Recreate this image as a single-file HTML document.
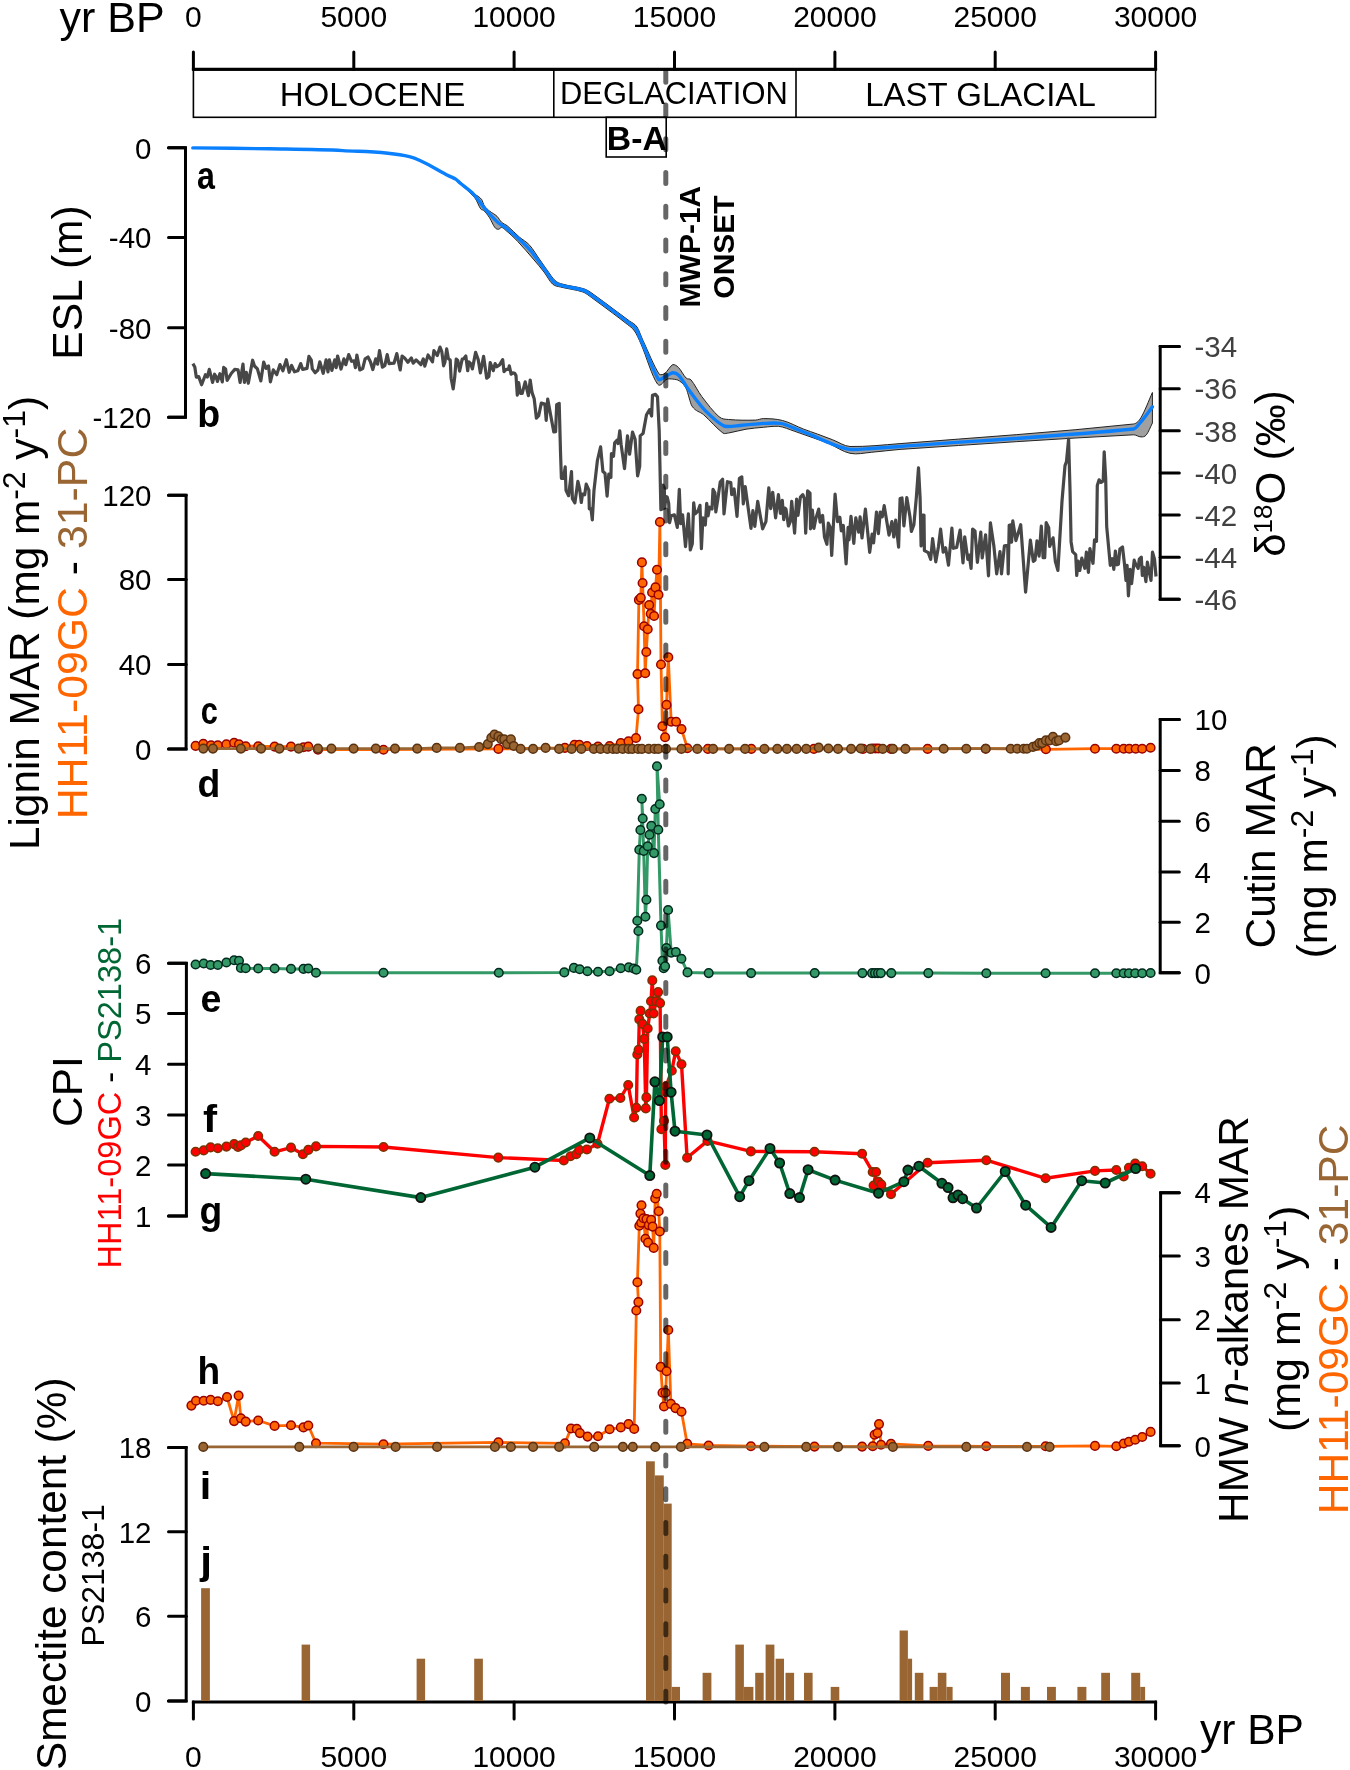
<!DOCTYPE html>
<html><head><meta charset="utf-8"><style>html,body{margin:0;padding:0;background:#fff}svg{display:block;will-change:transform;font-family:"Liberation Sans",sans-serif}</style></head><body>
<svg width="1350" height="1770" viewBox="0 0 1350 1770" >
<rect width="1350" height="1770" fill="#fff"/>
<g stroke="#000" stroke-width="3" fill="none">
<line x1="191.9" y1="69.3" x2="1157.1" y2="69.3"/>
<line x1="193.4" y1="52" x2="193.4" y2="69.3" stroke-linecap="round"/>
<line x1="353.8" y1="52" x2="353.8" y2="69.3" stroke-linecap="round"/>
<line x1="514.1" y1="52" x2="514.1" y2="69.3" stroke-linecap="round"/>
<line x1="674.5" y1="52" x2="674.5" y2="69.3" stroke-linecap="round"/>
<line x1="834.9" y1="52" x2="834.9" y2="69.3" stroke-linecap="round"/>
<line x1="995.2" y1="52" x2="995.2" y2="69.3" stroke-linecap="round"/>
<line x1="1155.6" y1="52" x2="1155.6" y2="69.3" stroke-linecap="round"/>
</g>
<text x="193.4" y="27.4" font-size="30" text-anchor="middle">0</text>
<text x="353.8" y="27.4" font-size="30" text-anchor="middle">5000</text>
<text x="514.1" y="27.4" font-size="30" text-anchor="middle">10000</text>
<text x="674.5" y="27.4" font-size="30" text-anchor="middle">15000</text>
<text x="834.9" y="27.4" font-size="30" text-anchor="middle">20000</text>
<text x="995.2" y="27.4" font-size="30" text-anchor="middle">25000</text>
<text x="1155.6" y="27.4" font-size="30" text-anchor="middle">30000</text>
<text x="59.5" y="31.6" font-size="43">yr BP</text>
<g stroke="#000" stroke-width="1.6" fill="none">
<rect x="193.4" y="70" width="962.2" height="47.3"/>
<line x1="553.8" y1="70" x2="553.8" y2="117.3"/>
<line x1="796" y1="70" x2="796" y2="117.3"/>
<rect x="606.2" y="117.3" width="60" height="39.7"/>
</g>
<text x="372.5" y="106.2" font-size="33.1" text-anchor="middle">HOLOCENE</text>
<text x="673.9" y="104.4" font-size="30.9" text-anchor="middle">DEGLACIATION</text>
<text x="980.5" y="106" font-size="33" text-anchor="middle">LAST GLACIAL</text>
<text x="606.8" y="150.2" font-size="32.5" font-weight="bold" textLength="60" lengthAdjust="spacingAndGlyphs">B-A</text>
<g stroke="#000" stroke-width="3" fill="none" stroke-linecap="round"><polyline points="168.5,147.8 185.5,147.8 185.5,417.2 168.5,417.2" stroke-linejoin="miter"/>
<line x1="168.5" y1="147.8" x2="185.5" y2="147.8"/>
<line x1="168.5" y1="237.6" x2="185.5" y2="237.6"/>
<line x1="168.5" y1="327.8" x2="185.5" y2="327.8"/>
<line x1="168.5" y1="417.2" x2="185.5" y2="417.2"/>
</g>
<text x="151.5" y="158.5" font-size="29.5" text-anchor="end">0</text>
<text x="151.5" y="248.3" font-size="29.5" text-anchor="end">-40</text>
<text x="151.5" y="338.5" font-size="29.5" text-anchor="end">-80</text>
<text x="151.5" y="427.9" font-size="29.5" text-anchor="end">-120</text>
<g stroke="#000" stroke-width="3" fill="none" stroke-linecap="round"><polyline points="168.5,495.2 186.1,495.2 186.1,748.9 168.5,748.9" stroke-linejoin="miter"/>
<line x1="168.5" y1="495.2" x2="186.1" y2="495.2"/>
<line x1="168.5" y1="579.6" x2="186.1" y2="579.6"/>
<line x1="168.5" y1="664.4" x2="186.1" y2="664.4"/>
<line x1="168.5" y1="748.9" x2="186.1" y2="748.9"/>
</g>
<text x="151.5" y="505.9" font-size="29.5" text-anchor="end">120</text>
<text x="151.5" y="590.3" font-size="29.5" text-anchor="end">80</text>
<text x="151.5" y="675.1" font-size="29.5" text-anchor="end">40</text>
<text x="151.5" y="759.6" font-size="29.5" text-anchor="end">0</text>
<g stroke="#000" stroke-width="3" fill="none" stroke-linecap="round"><polyline points="168.5,963.2 186.4,963.2 186.4,1216 168.5,1216" stroke-linejoin="miter"/>
<line x1="168.5" y1="963.2" x2="186.4" y2="963.2"/>
<line x1="168.5" y1="1013.4" x2="186.4" y2="1013.4"/>
<line x1="168.5" y1="1064.3" x2="186.4" y2="1064.3"/>
<line x1="168.5" y1="1114.9" x2="186.4" y2="1114.9"/>
<line x1="168.5" y1="1165.1" x2="186.4" y2="1165.1"/>
<line x1="168.5" y1="1216" x2="186.4" y2="1216"/>
</g>
<text x="151.5" y="973.9" font-size="29.5" text-anchor="end">6</text>
<text x="151.5" y="1024.1" font-size="29.5" text-anchor="end">5</text>
<text x="151.5" y="1075.0" font-size="29.5" text-anchor="end">4</text>
<text x="151.5" y="1125.6" font-size="29.5" text-anchor="end">3</text>
<text x="151.5" y="1175.8" font-size="29.5" text-anchor="end">2</text>
<text x="151.5" y="1226.7" font-size="29.5" text-anchor="end">1</text>
<g stroke="#000" stroke-width="3" fill="none" stroke-linecap="round"><polyline points="168.5,1447.4 186.2,1447.4 186.2,1701 168.5,1701" stroke-linejoin="miter"/>
<line x1="168.5" y1="1447.4" x2="186.2" y2="1447.4"/>
<line x1="168.5" y1="1531.8" x2="186.2" y2="1531.8"/>
<line x1="168.5" y1="1616.2" x2="186.2" y2="1616.2"/>
<line x1="168.5" y1="1701" x2="186.2" y2="1701"/>
</g>
<text x="151.5" y="1458.1" font-size="29.5" text-anchor="end">18</text>
<text x="151.5" y="1542.5" font-size="29.5" text-anchor="end">12</text>
<text x="151.5" y="1626.9" font-size="29.5" text-anchor="end">6</text>
<text x="151.5" y="1711.7" font-size="29.5" text-anchor="end">0</text>
<g stroke="#000" stroke-width="3" fill="none" stroke-linecap="round"><polyline points="1179.3,346.5 1160.2,346.5 1160.2,599.3 1179.3,599.3" stroke-linejoin="miter"/>
<line x1="1160.2" y1="346.5" x2="1179.3" y2="346.5"/>
<line x1="1160.2" y1="388.63" x2="1179.3" y2="388.63"/>
<line x1="1160.2" y1="430.76" x2="1179.3" y2="430.76"/>
<line x1="1160.2" y1="472.89" x2="1179.3" y2="472.89"/>
<line x1="1160.2" y1="515.02" x2="1179.3" y2="515.02"/>
<line x1="1160.2" y1="557.15" x2="1179.3" y2="557.15"/>
<line x1="1160.2" y1="599.28" x2="1179.3" y2="599.28"/>
</g>
<text x="1194.5" y="357.2" font-size="29.5" fill="#404040">-34</text>
<text x="1194.5" y="399.3" font-size="29.5" fill="#404040">-36</text>
<text x="1194.5" y="441.5" font-size="29.5" fill="#404040">-38</text>
<text x="1194.5" y="483.6" font-size="29.5" fill="#404040">-40</text>
<text x="1194.5" y="525.7" font-size="29.5" fill="#404040">-42</text>
<text x="1194.5" y="567.9" font-size="29.5" fill="#404040">-44</text>
<text x="1194.5" y="610.0" font-size="29.5" fill="#404040">-46</text>
<g stroke="#000" stroke-width="3" fill="none" stroke-linecap="round"><polyline points="1179.3,719.4 1160.2,719.4 1160.2,972.8 1179.3,972.8" stroke-linejoin="miter"/>
<line x1="1160.2" y1="719.4" x2="1179.3" y2="719.4"/>
<line x1="1160.2" y1="770.4" x2="1179.3" y2="770.4"/>
<line x1="1160.2" y1="821.3" x2="1179.3" y2="821.3"/>
<line x1="1160.2" y1="871.9" x2="1179.3" y2="871.9"/>
<line x1="1160.2" y1="922.2" x2="1179.3" y2="922.2"/>
<line x1="1160.2" y1="972.8" x2="1179.3" y2="972.8"/>
</g>
<text x="1194.5" y="730.1" font-size="29.5" fill="#000">10</text>
<text x="1194.5" y="781.1" font-size="29.5" fill="#000">8</text>
<text x="1194.5" y="832.0" font-size="29.5" fill="#000">6</text>
<text x="1194.5" y="882.6" font-size="29.5" fill="#000">4</text>
<text x="1194.5" y="932.9" font-size="29.5" fill="#000">2</text>
<text x="1194.5" y="983.5" font-size="29.5" fill="#000">0</text>
<g stroke="#000" stroke-width="3" fill="none" stroke-linecap="round"><polyline points="1179.3,1192.7 1160.6,1192.7 1160.6,1445.8 1179.3,1445.8" stroke-linejoin="miter"/>
<line x1="1160.6" y1="1192.7" x2="1179.3" y2="1192.7"/>
<line x1="1160.6" y1="1256" x2="1179.3" y2="1256"/>
<line x1="1160.6" y1="1319.7" x2="1179.3" y2="1319.7"/>
<line x1="1160.6" y1="1383" x2="1179.3" y2="1383"/>
<line x1="1160.6" y1="1445.8" x2="1179.3" y2="1445.8"/>
</g>
<text x="1194.5" y="1203.4" font-size="29.5" fill="#000">4</text>
<text x="1194.5" y="1266.7" font-size="29.5" fill="#000">3</text>
<text x="1194.5" y="1330.4" font-size="29.5" fill="#000">2</text>
<text x="1194.5" y="1393.7" font-size="29.5" fill="#000">1</text>
<text x="1194.5" y="1456.5" font-size="29.5" fill="#000">0</text>
<g stroke="#000" stroke-width="3" fill="none">
<line x1="191.9" y1="1702" x2="1157.1" y2="1702"/>
<line x1="193.4" y1="1702" x2="193.4" y2="1719" stroke-linecap="round"/>
<line x1="353.8" y1="1702" x2="353.8" y2="1719" stroke-linecap="round"/>
<line x1="514.1" y1="1702" x2="514.1" y2="1719" stroke-linecap="round"/>
<line x1="674.5" y1="1702" x2="674.5" y2="1719" stroke-linecap="round"/>
<line x1="834.9" y1="1702" x2="834.9" y2="1719" stroke-linecap="round"/>
<line x1="995.2" y1="1702" x2="995.2" y2="1719" stroke-linecap="round"/>
<line x1="1155.6" y1="1702" x2="1155.6" y2="1719" stroke-linecap="round"/>
</g>
<text x="193.4" y="1766.6" font-size="30" text-anchor="middle">0</text>
<text x="353.8" y="1766.6" font-size="30" text-anchor="middle">5000</text>
<text x="514.1" y="1766.6" font-size="30" text-anchor="middle">10000</text>
<text x="674.5" y="1766.6" font-size="30" text-anchor="middle">15000</text>
<text x="834.9" y="1766.6" font-size="30" text-anchor="middle">20000</text>
<text x="995.2" y="1766.6" font-size="30" text-anchor="middle">25000</text>
<text x="1155.6" y="1766.6" font-size="30" text-anchor="middle">30000</text>
<text x="1200" y="1743.9" font-size="42.5">yr BP</text>
<text transform="translate(196.93,189) scale(0.827,1)" font-size="39" font-weight="bold">a</text>
<text transform="translate(197.27,427) scale(0.964,1)" font-size="39" font-weight="bold">b</text>
<text transform="translate(200.67,724.3) scale(0.790,1)" font-size="39" font-weight="bold">c</text>
<text transform="translate(197.50,797.3) scale(0.959,1)" font-size="39" font-weight="bold">d</text>
<text transform="translate(200.40,1011.6) scale(0.962,1)" font-size="39" font-weight="bold">e</text>
<text transform="translate(203.05,1132) scale(1.084,1)" font-size="39" font-weight="bold">f</text>
<text transform="translate(199.51,1223.5) scale(0.954,1)" font-size="39" font-weight="bold">g</text>
<text transform="translate(197.50,1383.9) scale(0.951,1)" font-size="39" font-weight="bold">h</text>
<text transform="translate(199.70,1498.9) scale(1.062,1)" font-size="39" font-weight="bold">i</text>
<text transform="translate(200.14,1574.4) scale(1.081,1)" font-size="39" font-weight="bold">j</text>
<text transform="translate(81.5,282.5) rotate(-90)" font-size="42.5" fill="#000" text-anchor="middle" >ESL (m)</text>
<text transform="translate(39.2,623) rotate(-90)" font-size="42.3" fill="#000" text-anchor="middle" >Lignin MAR (mg m<tspan dy="-14" font-size="32">-2</tspan><tspan dy="14"> y</tspan><tspan dy="-14" font-size="32">-1</tspan><tspan dy="14">)</tspan></text>
<text transform="translate(86.5,623.5) rotate(-90)" font-size="42.8" fill="#000" text-anchor="middle" ><tspan fill="#ff6600">HH11-09GC</tspan> - <tspan fill="#996633">31-PC</tspan></text>
<text transform="translate(82.4,1091.6) rotate(-90)" font-size="42.5" fill="#000" text-anchor="middle" >CPI</text>
<text transform="translate(120.9,1093.2) rotate(-90)" font-size="32.6" fill="#000" text-anchor="middle" ><tspan fill="#ff0000">HH11-09GC</tspan> - <tspan fill="#006633">PS2138-1</tspan></text>
<text transform="translate(65.5,1573.8) rotate(-90)" font-size="42.3" fill="#000" text-anchor="middle" >Smectite content (%)</text>
<text transform="translate(104.3,1575.3) rotate(-90)" font-size="32" fill="#000" text-anchor="middle" >PS2138-1</text>
<text transform="translate(1284.8,473.5) rotate(-90)" font-size="42" fill="#000" text-anchor="middle" >δ<tspan dy="-13" font-size="26">18</tspan><tspan dy="13">O (‰)</tspan></text>
<text transform="translate(1275,845.8) rotate(-90)" font-size="42.5" fill="#000" text-anchor="middle" >Cutin MAR</text>
<text transform="translate(1327,846.3) rotate(-90)" font-size="42.4" fill="#000" text-anchor="middle" >(mg m<tspan dy="-14" font-size="32">-2</tspan><tspan dy="14"> y</tspan><tspan dy="-14" font-size="32">-1</tspan><tspan dy="14">)</tspan></text>
<text transform="translate(1248,1319.6) rotate(-90)" font-size="42.3" fill="#000" text-anchor="middle" >HMW <tspan font-style="italic">n</tspan>-alkanes MAR</text>
<text transform="translate(1300,1318.8) rotate(-90)" font-size="43" fill="#000" text-anchor="middle" >(mg m<tspan dy="-14" font-size="32">-2</tspan><tspan dy="14"> y</tspan><tspan dy="-14" font-size="32">-1</tspan><tspan dy="14">)</tspan></text>
<text transform="translate(1348,1319.4) rotate(-90)" font-size="42.6" fill="#000" text-anchor="middle" ><tspan fill="#ff6600">HH11-09GC</tspan> - <tspan fill="#996633">31-PC</tspan></text>
<text transform="translate(700.3,246.6) rotate(-90)" font-size="30" fill="#000" text-anchor="middle" font-weight="bold">MWP-1A</text>
<text transform="translate(734.4,247) rotate(-90)" font-size="30" fill="#000" text-anchor="middle" font-weight="bold">ONSET</text>
<path d="M456.1,178.5 C462.3,183.7 468.6,189.0 474.8,194.1 C477.0,195.9 479.3,196.6 481.5,199.3 C482.5,200.5 483.4,204.5 484.4,205.9 C486.1,208.4 487.9,209.7 489.6,211.1 C492.1,213.1 494.5,214.0 497.0,216.3 C498.5,217.7 500.0,220.8 501.5,222.2 C503.5,224.0 505.4,224.3 507.4,225.9 C511.4,229.2 515.3,233.6 519.3,237.0 C522.7,240.0 526.2,241.4 529.6,245.2 C533.1,249.1 536.5,255.1 540.0,260.0 C542.3,263.3 544.7,266.8 547.0,270.0 C549.7,273.6 552.3,278.0 555.0,280.5 C557.3,282.7 559.7,283.3 562.0,284.0 C569.5,286.2 577.0,286.6 584.5,289.0 C587.3,289.9 590.2,292.0 593.0,294.0 C600.0,298.9 607.0,304.3 614.0,309.5 C619.2,313.3 624.3,317.1 629.5,321.0 C632.0,322.9 634.5,323.4 637.0,327.0 C639.0,329.9 641.0,336.3 643.0,340.5 C648.4,352.0 653.9,366.2 659.3,374.3 C661.2,375.1 663.1,374.7 665.0,373.3 C667.6,371.4 670.2,365.7 672.8,364.6 C674.7,364.4 676.6,365.6 678.5,367.5 C681.1,370.1 683.6,375.6 686.2,378.1 C687.8,379.7 689.5,378.1 691.1,380.0 C694.6,384.2 698.2,391.8 701.7,396.4 C707.5,404.0 713.2,411.7 719.0,416.7 C722.2,419.4 725.4,419.2 728.6,419.5 C737.6,420.3 746.6,420.3 755.6,420.1 C758.2,420.0 760.7,418.6 763.3,418.6 C769.7,418.7 776.2,418.8 782.6,420.5 C789.7,422.3 796.7,426.5 803.8,429.2 C808.3,431.0 812.8,432.3 817.3,434.0 C822.4,435.9 827.6,437.8 832.7,439.8 C838.5,442.0 844.2,446.2 850.0,446.5 C866.7,446.8 883.4,444.9 900.1,443.6 C977.9,437.4 1055.7,432.4 1133.5,424.0 C1136.0,423.7 1138.5,421.8 1141.0,417.6 C1144.8,411.3 1148.6,400.9 1152.4,392.5 L1152.4,423.0 C1150.4,426.9 1148.4,432.4 1146.4,434.8 C1144.6,437.0 1142.8,436.9 1141.0,436.9 C1138.5,436.9 1136.0,434.7 1133.5,434.8 C1055.7,438.8 977.9,444.2 900.1,449.4 C890.5,450.0 880.8,451.6 871.2,452.3 C864.1,452.9 857.1,454.8 850.0,453.3 C842.9,451.9 835.9,446.6 828.8,443.6 C823.7,441.4 818.5,439.7 813.4,437.9 C807.0,435.6 800.5,433.3 794.1,431.1 C789.0,429.4 783.8,426.9 778.7,426.3 C773.6,426.1 768.4,426.8 763.3,427.3 C757.5,427.8 751.8,428.3 746.0,429.2 C740.2,430.2 734.4,432.0 728.6,433.0 C726.7,433.0 724.8,434.4 722.9,433.0 C716.5,428.3 710.0,420.3 703.6,414.7 C699.7,411.3 695.9,411.9 692.0,406.1 C690.1,403.2 688.1,392.6 686.2,388.7 C684.0,384.2 681.7,382.6 679.5,381.0 C677.3,379.4 675.0,379.4 672.8,379.1 C670.9,379.1 668.9,378.5 667.0,379.1 C663.8,380.1 660.7,388.3 657.5,384.0 C652.0,376.6 646.5,356.7 641.0,344.0 C638.8,339.0 636.7,334.1 634.5,331.0 C632.2,327.6 629.8,326.4 627.5,324.5 C622.5,320.4 617.5,316.8 612.5,313.0 C605.5,307.8 598.5,302.5 591.5,297.5 C588.7,295.5 585.8,293.0 583.0,292.0 C575.5,289.5 568.0,289.0 560.5,287.0 C557.8,286.3 555.2,286.4 552.5,284.0 C549.7,281.4 546.8,275.7 544.0,272.0 C540.7,267.7 537.4,263.8 534.1,260.0 C528.7,253.7 523.2,247.2 517.8,241.5 C513.8,237.3 509.9,233.8 505.9,230.4 C504.4,229.1 503.0,227.6 501.5,227.4 C500.5,227.4 499.5,229.3 498.5,229.3 C497.3,229.3 496.0,229.0 494.8,227.4 C493.1,225.2 491.3,220.5 489.6,217.8 C487.6,214.8 485.7,212.4 483.7,210.4 C482.7,209.4 481.7,210.3 480.7,208.9 C478.7,206.1 476.8,200.1 474.8,197.8 C468.6,190.6 462.3,186.1 456.1,180.3 Z" fill="#a0a0a0" stroke="#222" stroke-width="1"/>
<path d="M192.8,147.9 C218.3,148.2 243.9,148.3 269.4,148.8 C293.9,149.2 318.3,149.2 342.8,150.6 C365.0,151.8 387.2,151.3 409.4,156.6 C422.7,159.8 436.1,169.6 449.4,176.1 C451.6,177.2 453.9,177.9 456.1,179.4 C457.4,180.2 458.7,181.9 460.0,183.0 C464.0,186.3 467.9,189.0 471.9,192.6 C473.9,194.4 475.8,196.9 477.8,199.3 C480.0,202.0 482.2,205.4 484.4,208.1 C486.6,210.8 488.9,213.2 491.1,215.6 C493.6,218.2 496.0,220.9 498.5,223.0 C500.5,224.6 502.4,225.2 504.4,226.7 C509.4,230.6 514.3,234.8 519.3,239.3 C523.0,242.7 526.7,246.3 530.4,250.4 C532.9,253.2 535.3,256.7 537.8,260.0 C540.4,263.5 543.0,267.1 545.6,270.7 C548.4,274.5 551.1,279.5 553.9,282.1 C556.3,284.4 558.7,284.6 561.1,285.3 C568.7,287.4 576.3,287.9 583.9,290.4 C586.7,291.3 589.4,293.7 592.2,295.6 C599.2,300.6 606.3,305.9 613.3,311.1 C618.4,314.9 623.4,318.6 628.5,322.6 C630.9,324.5 633.4,325.2 635.8,328.8 C637.9,331.8 639.9,337.7 642.0,342.3 C647.5,354.6 653.1,370.9 658.6,379.6 C660.4,380.5 662.3,378.1 664.1,377.2 C667.0,375.8 669.9,373.1 672.8,372.7 C674.7,372.6 676.6,373.1 678.5,375.2 C682.4,379.4 686.2,386.5 690.1,391.6 C695.2,398.4 700.4,405.8 705.5,410.9 C711.9,417.3 718.4,423.8 724.8,426.3 C730.6,427.0 736.3,425.7 742.1,425.3 C749.2,424.8 756.2,423.7 763.3,423.4 C769.1,423.4 774.9,422.5 780.7,423.4 C785.2,424.1 789.6,426.5 794.1,428.2 C800.5,430.7 807.0,433.2 813.4,435.9 C818.5,438.0 823.7,440.8 828.8,442.7 C835.9,445.3 842.9,448.4 850.0,449.4 C857.1,449.7 864.1,448.9 871.2,448.5 C880.8,447.9 890.5,447.2 900.1,446.5 C977.9,440.7 1055.7,436.6 1133.5,429.0 C1135.7,428.8 1137.8,425.5 1140.0,423.0 C1144.1,418.2 1148.3,412.3 1152.4,406.9" fill="none" stroke="#0a80ff" stroke-width="3.4" stroke-linejoin="round" stroke-linecap="round"/>
<polyline points="192.9,363.6 194.8,367.0 196.3,377.1 198.7,376.6 201.6,384.8 205.4,374.7 207.3,377.1 209.3,369.4 212.6,382.4 214.6,374.2 216.0,376.6 217.4,381.4 219.9,373.7 222.3,381.9 223.7,367.4 225.6,368.9 227.1,380.4 231.4,373.2 234.8,369.4 238.1,369.9 240.1,382.4 243.0,364.1 244.4,382.4 246.3,372.3 248.3,383.3 252.6,360.2 254.5,366.0 257.4,368.9 260.8,380.9 263.7,362.1 266.1,368.4 268.5,366.0 270.4,381.9 273.3,369.9 276.7,374.7 280.0,364.6 282.9,370.8 286.3,359.7 289.2,372.3 291.6,365.5 294.5,371.8 297.8,370.8 300.7,363.6 302.7,369.4 307.0,368.4 308.9,356.4 311.3,360.2 312.3,368.9 315.2,372.7 317.9,370.0 319.8,361.8 323.2,373.3 326.1,359.9 328.0,371.9 329.4,359.9 331.9,370.4 334.7,359.9 336.2,367.6 337.6,356.0 341.0,369.0 343.9,358.9 345.8,364.7 348.7,354.6 351.6,361.3 354.0,360.8 355.4,367.6 356.9,355.0 359.8,370.0 362.7,368.5 365.1,358.9 368.0,357.0 370.4,361.8 372.8,369.5 375.7,358.9 377.6,364.2 379.5,350.7 382.4,367.1 384.8,365.6 387.2,354.6 389.1,363.7 394.0,363.2 396.8,353.6 400.2,370.0 402.1,356.0 404.6,357.9 407.9,362.3 411.3,357.9 413.2,363.2 416.1,359.9 420.9,364.7 423.3,358.9 424.8,366.1 428.1,355.0 432.5,361.8 433.9,350.7 437.3,355.5 440.0,347.1 441.8,351.6 443.6,365.8 444.9,362.2 446.7,348.9 448.4,358.7 450.2,360.0 451.1,378.2 453.2,388.9 454.7,377.3 456.2,359.1 457.8,360.4 459.6,371.1 462.2,359.1 463.6,358.7 465.8,356.0 467.7,370.7 468.9,361.8 470.7,363.6 472.4,368.9 475.6,352.4 478.2,359.6 480.4,372.9 483.6,356.4 486.7,378.2 488.9,376.4 490.2,362.7 493.3,370.7 495.1,363.6 496.9,366.7 499.6,364.9 502.7,359.6 504.0,371.6 506.2,369.3 508.4,369.3 509.3,365.8 511.1,374.2 512.9,372.9 514.7,373.3 516.0,375.6 517.3,395.1 518.7,382.7 520.4,393.3 522.2,393.3 525.2,381.8 528.4,395.6 530.2,380.0 532.0,392.4 534.2,398.7 536.4,418.2 538.7,415.6 541.3,403.1 544.9,404.0 546.2,420.4 547.7,399.1 553.8,432.0 555.6,431.6 556.7,404.6 559.2,403.3 560.5,452.0 561.4,478.3 563.5,478.3 565.2,466.9 566.0,490.2 568.6,495.7 571.5,471.5 572.4,498.6 574.9,502.9 577.9,481.3 579.6,488.5 581.3,502.5 582.5,494.0 584.7,494.8 586.2,484.2 588.9,490.2 589.3,508.8 591.0,508.8 592.3,519.8 594.0,490.2 597.4,460.5 600.6,446.9 602.9,471.5 605.0,473.2 607.1,496.1 608.8,474.1 610.9,477.5 611.4,453.7 613.5,456.3 614.7,442.7 616.9,440.2 618.1,443.6 619.8,430.8 621.1,444.4 624.5,468.6 627.5,435.9 629.6,454.2 632.5,432.1 635.1,439.3 637.6,475.8 639.7,466.4 640.2,435.9 643.1,433.4 646.5,414.7 649.5,409.7 651.6,416.0 652.5,395.3 655.4,394.4 657.5,396.9 659.2,430.8 660.9,509.7 662.6,508.8 662.9,485.0 664.3,487.9 664.8,508.1 665.8,496.6 667.2,497.1 668.7,503.3 669.6,522.6 671.1,515.8 674.4,514.9 677.3,527.4 679.3,489.4 680.7,523.6 682.6,514.9 685.5,546.7 688.4,513.9 690.3,550.0 692.3,543.8 693.7,502.9 695.1,513.9 698.0,511.0 700.0,505.3 701.4,548.6 702.9,517.8 705.3,525.0 706.7,503.3 708.1,515.8 709.6,507.2 712.0,509.1 713.0,489.4 714.9,492.7 715.8,512.0 717.8,499.5 720.2,482.1 722.6,479.3 724.0,513.9 727.4,481.7 730.8,482.6 731.7,494.7 734.1,488.9 737.0,516.3 739.4,478.3 741.8,476.9 743.3,503.8 745.2,486.5 751.0,528.4 752.9,510.6 754.8,526.4 757.7,501.4 762.6,528.8 765.9,521.6 768.8,487.9 770.7,508.6 772.7,492.3 775.6,517.8 778.4,494.7 780.4,513.4 782.3,500.4 783.7,519.7 785.0,508.1 786.0,509.1 788.4,526.0 790.3,521.6 791.7,501.4 794.6,533.2 796.6,499.0 798.0,515.4 800.4,497.1 802.8,494.7 804.3,498.5 805.7,533.2 807.6,490.8 810.0,493.2 810.5,528.8 812.4,510.1 813.9,528.4 815.8,518.7 818.7,509.1 820.1,522.1 822.6,515.4 824.5,537.0 826.9,544.3 828.3,523.1 830.3,527.4 831.7,555.3 835.1,494.2 837.5,521.6 839.9,517.3 841.3,530.8 843.3,525.5 846.1,564.0 848.1,527.4 849.0,539.9 851.0,516.3 853.8,543.3 855.8,517.8 858.7,532.2 860.1,516.8 862.0,538.0 865.4,509.1 869.7,552.4 872.1,534.1 873.6,542.8 876.5,512.0 878.4,533.7 880.3,512.0 882.3,516.8 884.2,505.7 889.0,535.1 891.9,521.6 893.8,537.0 895.7,520.2 898.6,547.1 900.1,498.5 902.0,498.0 903.9,526.0 906.8,497.6 910.0,517.0 911.4,531.5 913.9,524.7 916.3,497.8 918.5,467.9 920.1,497.8 921.1,545.9 922.5,515.1 924.0,515.1 924.4,550.7 928.3,552.7 930.7,559.4 932.6,538.7 934.1,549.8 935.8,561.8 938.4,546.9 940.6,529.1 943.2,552.2 945.6,547.8 948.5,565.2 951.9,528.1 953.3,548.3 956.7,547.4 960.1,530.0 963.0,562.8 964.7,536.8 967.8,559.4 969.2,555.1 971.1,568.5 972.6,529.1 975.0,531.0 977.4,562.3 980.8,532.0 982.2,558.0 985.6,534.8 988.5,575.8 990.4,522.8 993.8,545.4 996.7,573.8 1000.0,551.7 1001.5,573.8 1004.4,545.9 1007.7,545.4 1008.2,573.8 1009.2,525.2 1011.1,524.7 1011.6,542.1 1012.8,520.9 1015.9,540.6 1020.7,524.7 1025.6,592.1 1030.4,540.1 1033.3,561.3 1035.0,560.2 1037.0,540.9 1039.1,556.1 1041.3,526.1 1043.1,557.7 1044.7,557.7 1046.2,522.6 1048.7,527.7 1049.7,546.5 1051.3,541.9 1053.1,537.8 1055.3,561.2 1057.9,570.4 1062.0,501.2 1065.0,465.6 1066.5,461.5 1068.6,439.2 1070.1,493.1 1071.1,541.9 1072.6,551.6 1075.7,554.6 1076.7,575.5 1078.2,561.2 1079.8,570.4 1081.8,558.2 1084.8,568.3 1086.4,552.1 1088.4,572.4 1089.9,548.5 1093.0,563.3 1094.5,539.9 1096.5,541.4 1097.3,485.4 1099.1,479.8 1101.1,482.4 1103.2,480.9 1104.2,451.9 1105.7,478.8 1106.7,526.6 1110.3,565.3 1112.3,558.7 1113.8,569.4 1115.4,551.0 1116.9,564.8 1118.4,564.3 1119.9,549.0 1122.5,547.0 1124.5,564.3 1126.0,580.5 1127.1,565.3 1128.4,595.8 1130.1,569.4 1131.6,583.6 1134.2,560.2 1135.7,564.3 1138.2,568.3 1139.3,559.2 1141.3,557.2 1142.3,575.5 1143.8,567.3 1145.9,581.6 1147.4,562.2 1148.9,570.4 1151.0,580.5 1152.5,552.1 1154.5,559.2 1156.0,576.5" fill="none" stroke="#474747" stroke-width="3.2" stroke-linejoin="round"/>
<polyline points="195.6,745.9 203.3,743.9 211.0,745.3 217.8,745.3 226.4,744.3 234.1,742.8 239.0,744.3 245.7,746.2 258.2,746.2 274.6,746.6 291.0,746.6 303.5,747.2 308.3,746.6 318.0,749.7 383.5,749.7 498.4,748.9 564.9,747.9 574.5,744.7 579.3,744.7 587.0,746.0 598.0,746.5 609.6,746.0 620.8,743.1 628.5,741.2 636.0,738.0 638.5,709.3 637.5,674.1 638.9,599.9 640.8,597.7 641.9,562.4 642.6,583.0 644.1,626.3 645.2,673.3 646.3,652.0 647.7,629.3 649.2,605.0 650.7,613.8 652.1,592.5 654.1,616.0 655.5,587.4 657.0,569.8 658.5,594.7 659.9,522.0 661.0,664.5 662.4,726.2 665.1,737.2 666.5,704.9 668.3,657.2 671.2,721.8 676.1,721.8 681.5,729.1 687.4,748.2 707.9,748.9 751.3,748.9 813.9,748.9 863.0,748.9 872.5,748.5 875.6,748.5 878.5,748.5 891.0,748.9 927.6,748.9 985.7,748.7 1045.9,749.3 1095.0,748.7 1116.3,748.7 1123.7,748.7 1129.3,748.7 1135.7,748.7 1142.2,748.7 1150.6,747.8" fill="none" stroke="#ff6600" stroke-width="2.8" stroke-linejoin="round"/>
<g fill="#ff6600" stroke="#990000" stroke-width="1.5">
<circle cx="195.6" cy="745.9" r="4.3"/>
<circle cx="203.3" cy="743.9" r="4.3"/>
<circle cx="211.0" cy="745.3" r="4.3"/>
<circle cx="217.8" cy="745.3" r="4.3"/>
<circle cx="226.4" cy="744.3" r="4.3"/>
<circle cx="234.1" cy="742.8" r="4.3"/>
<circle cx="239.0" cy="744.3" r="4.3"/>
<circle cx="245.7" cy="746.2" r="4.3"/>
<circle cx="258.2" cy="746.2" r="4.3"/>
<circle cx="274.6" cy="746.6" r="4.3"/>
<circle cx="291.0" cy="746.6" r="4.3"/>
<circle cx="303.5" cy="747.2" r="4.3"/>
<circle cx="308.3" cy="746.6" r="4.3"/>
<circle cx="318.0" cy="749.7" r="4.3"/>
<circle cx="383.5" cy="749.7" r="4.3"/>
<circle cx="498.4" cy="748.9" r="4.3"/>
<circle cx="564.9" cy="747.9" r="4.3"/>
<circle cx="574.5" cy="744.7" r="4.3"/>
<circle cx="579.3" cy="744.7" r="4.3"/>
<circle cx="587.0" cy="746.0" r="4.3"/>
<circle cx="598.0" cy="746.5" r="4.3"/>
<circle cx="609.6" cy="746.0" r="4.3"/>
<circle cx="620.8" cy="743.1" r="4.3"/>
<circle cx="628.5" cy="741.2" r="4.3"/>
<circle cx="636.0" cy="738.0" r="4.3"/>
<circle cx="638.5" cy="709.3" r="4.3"/>
<circle cx="637.5" cy="674.1" r="4.3"/>
<circle cx="638.9" cy="599.9" r="4.3"/>
<circle cx="640.8" cy="597.7" r="4.3"/>
<circle cx="641.9" cy="562.4" r="4.3"/>
<circle cx="642.6" cy="583.0" r="4.3"/>
<circle cx="644.1" cy="626.3" r="4.3"/>
<circle cx="645.2" cy="673.3" r="4.3"/>
<circle cx="646.3" cy="652.0" r="4.3"/>
<circle cx="647.7" cy="629.3" r="4.3"/>
<circle cx="649.2" cy="605.0" r="4.3"/>
<circle cx="650.7" cy="613.8" r="4.3"/>
<circle cx="652.1" cy="592.5" r="4.3"/>
<circle cx="654.1" cy="616.0" r="4.3"/>
<circle cx="655.5" cy="587.4" r="4.3"/>
<circle cx="657.0" cy="569.8" r="4.3"/>
<circle cx="658.5" cy="594.7" r="4.3"/>
<circle cx="659.9" cy="522.0" r="4.3"/>
<circle cx="661.0" cy="664.5" r="4.3"/>
<circle cx="662.4" cy="726.2" r="4.3"/>
<circle cx="665.1" cy="737.2" r="4.3"/>
<circle cx="666.5" cy="704.9" r="4.3"/>
<circle cx="668.3" cy="657.2" r="4.3"/>
<circle cx="671.2" cy="721.8" r="4.3"/>
<circle cx="676.1" cy="721.8" r="4.3"/>
<circle cx="681.5" cy="729.1" r="4.3"/>
<circle cx="687.4" cy="748.2" r="4.3"/>
<circle cx="707.9" cy="748.9" r="4.3"/>
<circle cx="751.3" cy="748.9" r="4.3"/>
<circle cx="813.9" cy="748.9" r="4.3"/>
<circle cx="863.0" cy="748.9" r="4.3"/>
<circle cx="872.5" cy="748.5" r="4.3"/>
<circle cx="875.6" cy="748.5" r="4.3"/>
<circle cx="878.5" cy="748.5" r="4.3"/>
<circle cx="891.0" cy="748.9" r="4.3"/>
<circle cx="927.6" cy="748.9" r="4.3"/>
<circle cx="985.7" cy="748.7" r="4.3"/>
<circle cx="1045.9" cy="749.3" r="4.3"/>
<circle cx="1095.0" cy="748.7" r="4.3"/>
<circle cx="1116.3" cy="748.7" r="4.3"/>
<circle cx="1123.7" cy="748.7" r="4.3"/>
<circle cx="1129.3" cy="748.7" r="4.3"/>
<circle cx="1135.7" cy="748.7" r="4.3"/>
<circle cx="1142.2" cy="748.7" r="4.3"/>
<circle cx="1150.6" cy="747.8" r="4.3"/>
</g>
<polyline points="203.3,748.6 212.9,748.6 240.9,748.6 261.1,748.6 279.4,748.6 298.7,748.6 318.0,748.6 331.4,748.6 353.6,748.6 375.8,748.6 395.0,748.6 417.2,748.6 436.7,747.9 459.9,747.9 479.1,747.0 487.8,744.1 491.3,737.7 494.5,734.5 498.4,736.4 501.3,739.3 504.2,739.3 507.1,744.1 510.9,739.3 513.8,746.0 520.6,748.9 533.1,748.9 545.6,747.9 559.1,748.9 571.6,748.9 581.3,748.9 593.8,748.9 600.5,748.9 607.3,748.9 613.0,748.9 616.9,748.9 622.7,748.9 628.5,748.9 632.3,748.9 638.1,748.9 641.9,748.9 648.7,748.9 654.5,748.9 658.3,748.9 666.0,748.9 681.4,748.9 697.3,748.9 713.1,748.9 729.1,748.9 745.1,748.9 764.4,748.9 777.3,748.9 786.9,748.9 796.6,748.9 806.2,748.9 818.7,747.6 828.4,748.5 838.0,748.9 851.1,748.9 860.7,748.5 870.4,748.9 882.7,748.9 892.9,748.9 905.4,748.9 943.7,748.7 966.3,748.7 985.7,748.7 1010.7,748.7 1017.2,748.7 1023.7,748.7 1027.0,748.7 1033.0,746.9 1036.7,745.6 1039.4,743.1 1042.2,743.1 1045.9,740.4 1049.6,740.4 1053.0,736.7 1056.1,741.3 1058.9,740.4 1065.4,737.6" fill="none" stroke="#996633" stroke-width="2.8" stroke-linejoin="round"/>
<g fill="#996633" stroke="#5a3210" stroke-width="1.5">
<circle cx="203.3" cy="748.6" r="4.3"/>
<circle cx="212.9" cy="748.6" r="4.3"/>
<circle cx="240.9" cy="748.6" r="4.3"/>
<circle cx="261.1" cy="748.6" r="4.3"/>
<circle cx="279.4" cy="748.6" r="4.3"/>
<circle cx="298.7" cy="748.6" r="4.3"/>
<circle cx="318.0" cy="748.6" r="4.3"/>
<circle cx="331.4" cy="748.6" r="4.3"/>
<circle cx="353.6" cy="748.6" r="4.3"/>
<circle cx="375.8" cy="748.6" r="4.3"/>
<circle cx="395.0" cy="748.6" r="4.3"/>
<circle cx="417.2" cy="748.6" r="4.3"/>
<circle cx="436.7" cy="747.9" r="4.3"/>
<circle cx="459.9" cy="747.9" r="4.3"/>
<circle cx="479.1" cy="747.0" r="4.3"/>
<circle cx="487.8" cy="744.1" r="4.3"/>
<circle cx="491.3" cy="737.7" r="4.3"/>
<circle cx="494.5" cy="734.5" r="4.3"/>
<circle cx="498.4" cy="736.4" r="4.3"/>
<circle cx="501.3" cy="739.3" r="4.3"/>
<circle cx="504.2" cy="739.3" r="4.3"/>
<circle cx="507.1" cy="744.1" r="4.3"/>
<circle cx="510.9" cy="739.3" r="4.3"/>
<circle cx="513.8" cy="746.0" r="4.3"/>
<circle cx="520.6" cy="748.9" r="4.3"/>
<circle cx="533.1" cy="748.9" r="4.3"/>
<circle cx="545.6" cy="747.9" r="4.3"/>
<circle cx="559.1" cy="748.9" r="4.3"/>
<circle cx="571.6" cy="748.9" r="4.3"/>
<circle cx="581.3" cy="748.9" r="4.3"/>
<circle cx="593.8" cy="748.9" r="4.3"/>
<circle cx="600.5" cy="748.9" r="4.3"/>
<circle cx="607.3" cy="748.9" r="4.3"/>
<circle cx="613.0" cy="748.9" r="4.3"/>
<circle cx="616.9" cy="748.9" r="4.3"/>
<circle cx="622.7" cy="748.9" r="4.3"/>
<circle cx="628.5" cy="748.9" r="4.3"/>
<circle cx="632.3" cy="748.9" r="4.3"/>
<circle cx="638.1" cy="748.9" r="4.3"/>
<circle cx="641.9" cy="748.9" r="4.3"/>
<circle cx="648.7" cy="748.9" r="4.3"/>
<circle cx="654.5" cy="748.9" r="4.3"/>
<circle cx="658.3" cy="748.9" r="4.3"/>
<circle cx="666.0" cy="748.9" r="4.3"/>
<circle cx="681.4" cy="748.9" r="4.3"/>
<circle cx="697.3" cy="748.9" r="4.3"/>
<circle cx="713.1" cy="748.9" r="4.3"/>
<circle cx="729.1" cy="748.9" r="4.3"/>
<circle cx="745.1" cy="748.9" r="4.3"/>
<circle cx="764.4" cy="748.9" r="4.3"/>
<circle cx="777.3" cy="748.9" r="4.3"/>
<circle cx="786.9" cy="748.9" r="4.3"/>
<circle cx="796.6" cy="748.9" r="4.3"/>
<circle cx="806.2" cy="748.9" r="4.3"/>
<circle cx="818.7" cy="747.6" r="4.3"/>
<circle cx="828.4" cy="748.5" r="4.3"/>
<circle cx="838.0" cy="748.9" r="4.3"/>
<circle cx="851.1" cy="748.9" r="4.3"/>
<circle cx="860.7" cy="748.5" r="4.3"/>
<circle cx="870.4" cy="748.9" r="4.3"/>
<circle cx="882.7" cy="748.9" r="4.3"/>
<circle cx="892.9" cy="748.9" r="4.3"/>
<circle cx="905.4" cy="748.9" r="4.3"/>
<circle cx="943.7" cy="748.7" r="4.3"/>
<circle cx="966.3" cy="748.7" r="4.3"/>
<circle cx="985.7" cy="748.7" r="4.3"/>
<circle cx="1010.7" cy="748.7" r="4.3"/>
<circle cx="1017.2" cy="748.7" r="4.3"/>
<circle cx="1023.7" cy="748.7" r="4.3"/>
<circle cx="1027.0" cy="748.7" r="4.3"/>
<circle cx="1033.0" cy="746.9" r="4.3"/>
<circle cx="1036.7" cy="745.6" r="4.3"/>
<circle cx="1039.4" cy="743.1" r="4.3"/>
<circle cx="1042.2" cy="743.1" r="4.3"/>
<circle cx="1045.9" cy="740.4" r="4.3"/>
<circle cx="1049.6" cy="740.4" r="4.3"/>
<circle cx="1053.0" cy="736.7" r="4.3"/>
<circle cx="1056.1" cy="741.3" r="4.3"/>
<circle cx="1058.9" cy="740.4" r="4.3"/>
<circle cx="1065.4" cy="737.6" r="4.3"/>
</g>
<polyline points="195.6,964.5 203.7,963.5 210.6,965.0 217.8,965.0 226.4,962.5 234.1,960.2 239.0,960.8 240.9,967.9 245.7,968.3 258.2,968.5 274.6,968.5 291.0,968.9 303.5,968.9 308.3,968.5 316.0,972.8 383.5,972.8 498.8,972.8 564.3,972.4 573.9,967.9 579.7,969.3 587.4,971.2 598.0,971.8 609.6,971.2 620.7,968.3 628.8,967.4 633.6,968.5 636.3,969.7 638.4,931.0 637.3,920.8 639.3,849.7 640.4,830.0 642.7,818.5 641.8,798.8 643.7,851.0 645.4,916.8 646.4,899.8 647.7,846.3 649.5,834.7 651.3,825.9 654.0,853.1 655.3,809.0 659.7,804.2 657.0,766.3 658.3,829.7 661.0,925.6 662.4,960.8 663.7,968.3 665.1,966.3 666.4,948.0 668.1,910.0 671.2,952.7 675.9,952.0 681.4,958.8 687.5,972.4 708.7,973.1 751.1,973.1 814.7,973.1 862.4,973.1 872.1,973.1 875.0,973.1 878.0,973.1 880.8,973.1 891.3,973.1 928.3,973.1 986.3,973.3 1045.6,973.3 1095.0,973.3 1116.3,973.3 1123.7,973.3 1128.9,973.3 1135.2,973.3 1142.2,973.3 1150.6,973.0" fill="none" stroke="#339966" stroke-width="3" stroke-linejoin="round"/>
<g fill="#339966" stroke="#002a1e" stroke-width="1.5">
<circle cx="195.6" cy="964.5" r="4.3"/>
<circle cx="203.7" cy="963.5" r="4.3"/>
<circle cx="210.6" cy="965.0" r="4.3"/>
<circle cx="217.8" cy="965.0" r="4.3"/>
<circle cx="226.4" cy="962.5" r="4.3"/>
<circle cx="234.1" cy="960.2" r="4.3"/>
<circle cx="239.0" cy="960.8" r="4.3"/>
<circle cx="240.9" cy="967.9" r="4.3"/>
<circle cx="245.7" cy="968.3" r="4.3"/>
<circle cx="258.2" cy="968.5" r="4.3"/>
<circle cx="274.6" cy="968.5" r="4.3"/>
<circle cx="291.0" cy="968.9" r="4.3"/>
<circle cx="303.5" cy="968.9" r="4.3"/>
<circle cx="308.3" cy="968.5" r="4.3"/>
<circle cx="316.0" cy="972.8" r="4.3"/>
<circle cx="383.5" cy="972.8" r="4.3"/>
<circle cx="498.8" cy="972.8" r="4.3"/>
<circle cx="564.3" cy="972.4" r="4.3"/>
<circle cx="573.9" cy="967.9" r="4.3"/>
<circle cx="579.7" cy="969.3" r="4.3"/>
<circle cx="587.4" cy="971.2" r="4.3"/>
<circle cx="598.0" cy="971.8" r="4.3"/>
<circle cx="609.6" cy="971.2" r="4.3"/>
<circle cx="620.7" cy="968.3" r="4.3"/>
<circle cx="628.8" cy="967.4" r="4.3"/>
<circle cx="633.6" cy="968.5" r="4.3"/>
<circle cx="636.3" cy="969.7" r="4.3"/>
<circle cx="638.4" cy="931.0" r="4.3"/>
<circle cx="637.3" cy="920.8" r="4.3"/>
<circle cx="639.3" cy="849.7" r="4.3"/>
<circle cx="640.4" cy="830.0" r="4.3"/>
<circle cx="642.7" cy="818.5" r="4.3"/>
<circle cx="641.8" cy="798.8" r="4.3"/>
<circle cx="643.7" cy="851.0" r="4.3"/>
<circle cx="645.4" cy="916.8" r="4.3"/>
<circle cx="646.4" cy="899.8" r="4.3"/>
<circle cx="647.7" cy="846.3" r="4.3"/>
<circle cx="649.5" cy="834.7" r="4.3"/>
<circle cx="651.3" cy="825.9" r="4.3"/>
<circle cx="654.0" cy="853.1" r="4.3"/>
<circle cx="655.3" cy="809.0" r="4.3"/>
<circle cx="659.7" cy="804.2" r="4.3"/>
<circle cx="657.0" cy="766.3" r="4.3"/>
<circle cx="658.3" cy="829.7" r="4.3"/>
<circle cx="661.0" cy="925.6" r="4.3"/>
<circle cx="662.4" cy="960.8" r="4.3"/>
<circle cx="663.7" cy="968.3" r="4.3"/>
<circle cx="665.1" cy="966.3" r="4.3"/>
<circle cx="666.4" cy="948.0" r="4.3"/>
<circle cx="668.1" cy="910.0" r="4.3"/>
<circle cx="671.2" cy="952.7" r="4.3"/>
<circle cx="675.9" cy="952.0" r="4.3"/>
<circle cx="681.4" cy="958.8" r="4.3"/>
<circle cx="687.5" cy="972.4" r="4.3"/>
<circle cx="708.7" cy="973.1" r="4.3"/>
<circle cx="751.1" cy="973.1" r="4.3"/>
<circle cx="814.7" cy="973.1" r="4.3"/>
<circle cx="862.4" cy="973.1" r="4.3"/>
<circle cx="872.1" cy="973.1" r="4.3"/>
<circle cx="875.0" cy="973.1" r="4.3"/>
<circle cx="878.0" cy="973.1" r="4.3"/>
<circle cx="880.8" cy="973.1" r="4.3"/>
<circle cx="891.3" cy="973.1" r="4.3"/>
<circle cx="928.3" cy="973.1" r="4.3"/>
<circle cx="986.3" cy="973.3" r="4.3"/>
<circle cx="1045.6" cy="973.3" r="4.3"/>
<circle cx="1095.0" cy="973.3" r="4.3"/>
<circle cx="1116.3" cy="973.3" r="4.3"/>
<circle cx="1123.7" cy="973.3" r="4.3"/>
<circle cx="1128.9" cy="973.3" r="4.3"/>
<circle cx="1135.2" cy="973.3" r="4.3"/>
<circle cx="1142.2" cy="973.3" r="4.3"/>
<circle cx="1150.6" cy="973.0" r="4.3"/>
</g>
<polyline points="195.6,1151.8 203.7,1150.4 210.6,1147.4 217.8,1148.3 226.4,1146.6 234.1,1144.1 238.0,1147.0 240.9,1145.4 245.7,1142.5 258.2,1136.0 274.6,1151.8 291.0,1147.6 302.9,1154.3 308.3,1149.9 316.0,1146.4 383.5,1147.0 498.3,1157.6 563.8,1160.5 570.5,1156.2 576.3,1154.3 579.2,1149.9 586.9,1149.5 597.5,1143.7 609.4,1098.7 620.4,1098.0 628.2,1085.0 634.1,1117.5 636.4,1107.8 637.3,1054.5 638.6,1049.9 639.3,1019.4 640.6,1010.9 642.5,1023.9 644.2,1038.9 645.8,1108.4 646.4,1097.4 647.7,1028.5 649.7,1013.5 651.0,1001.2 652.3,980.4 653.6,1013.5 656.2,1001.2 658.1,992.1 660.1,1003.1 661.4,1129.2 664.0,1120.8 665.3,1165.0 665.6,1092.0 666.2,1086.0 671.8,1070.7 675.7,1051.2 681.5,1064.2 687.1,1157.8 707.5,1140.9 750.9,1151.4 814.5,1151.8 862.1,1153.7 872.7,1172.0 876.1,1172.0 873.6,1185.5 878.5,1181.7 881.3,1184.5 891.0,1194.2 927.6,1162.8 986.3,1160.2 1045.6,1178.3 1095.0,1170.9 1116.3,1170.0 1123.7,1176.5 1128.9,1167.8 1135.2,1163.5 1142.2,1166.3 1150.6,1173.7" fill="none" stroke="#ff0000" stroke-width="3.4" stroke-linejoin="round"/>
<g fill="#ff0000" stroke="#7a3300" stroke-width="1.5">
<circle cx="195.6" cy="1151.8" r="4.3"/>
<circle cx="203.7" cy="1150.4" r="4.3"/>
<circle cx="210.6" cy="1147.4" r="4.3"/>
<circle cx="217.8" cy="1148.3" r="4.3"/>
<circle cx="226.4" cy="1146.6" r="4.3"/>
<circle cx="234.1" cy="1144.1" r="4.3"/>
<circle cx="238.0" cy="1147.0" r="4.3"/>
<circle cx="240.9" cy="1145.4" r="4.3"/>
<circle cx="245.7" cy="1142.5" r="4.3"/>
<circle cx="258.2" cy="1136.0" r="4.3"/>
<circle cx="274.6" cy="1151.8" r="4.3"/>
<circle cx="291.0" cy="1147.6" r="4.3"/>
<circle cx="302.9" cy="1154.3" r="4.3"/>
<circle cx="308.3" cy="1149.9" r="4.3"/>
<circle cx="316.0" cy="1146.4" r="4.3"/>
<circle cx="383.5" cy="1147.0" r="4.3"/>
<circle cx="498.3" cy="1157.6" r="4.3"/>
<circle cx="563.8" cy="1160.5" r="4.3"/>
<circle cx="570.5" cy="1156.2" r="4.3"/>
<circle cx="576.3" cy="1154.3" r="4.3"/>
<circle cx="579.2" cy="1149.9" r="4.3"/>
<circle cx="586.9" cy="1149.5" r="4.3"/>
<circle cx="597.5" cy="1143.7" r="4.3"/>
<circle cx="609.4" cy="1098.7" r="4.3"/>
<circle cx="620.4" cy="1098.0" r="4.3"/>
<circle cx="628.2" cy="1085.0" r="4.3"/>
<circle cx="634.1" cy="1117.5" r="4.3"/>
<circle cx="636.4" cy="1107.8" r="4.3"/>
<circle cx="637.3" cy="1054.5" r="4.3"/>
<circle cx="638.6" cy="1049.9" r="4.3"/>
<circle cx="639.3" cy="1019.4" r="4.3"/>
<circle cx="640.6" cy="1010.9" r="4.3"/>
<circle cx="642.5" cy="1023.9" r="4.3"/>
<circle cx="644.2" cy="1038.9" r="4.3"/>
<circle cx="645.8" cy="1108.4" r="4.3"/>
<circle cx="646.4" cy="1097.4" r="4.3"/>
<circle cx="647.7" cy="1028.5" r="4.3"/>
<circle cx="649.7" cy="1013.5" r="4.3"/>
<circle cx="651.0" cy="1001.2" r="4.3"/>
<circle cx="652.3" cy="980.4" r="4.3"/>
<circle cx="653.6" cy="1013.5" r="4.3"/>
<circle cx="656.2" cy="1001.2" r="4.3"/>
<circle cx="658.1" cy="992.1" r="4.3"/>
<circle cx="660.1" cy="1003.1" r="4.3"/>
<circle cx="661.4" cy="1129.2" r="4.3"/>
<circle cx="664.0" cy="1120.8" r="4.3"/>
<circle cx="665.3" cy="1165.0" r="4.3"/>
<circle cx="665.6" cy="1092.0" r="4.3"/>
<circle cx="666.2" cy="1086.0" r="4.3"/>
<circle cx="671.8" cy="1070.7" r="4.3"/>
<circle cx="675.7" cy="1051.2" r="4.3"/>
<circle cx="681.5" cy="1064.2" r="4.3"/>
<circle cx="687.1" cy="1157.8" r="4.3"/>
<circle cx="707.5" cy="1140.9" r="4.3"/>
<circle cx="750.9" cy="1151.4" r="4.3"/>
<circle cx="814.5" cy="1151.8" r="4.3"/>
<circle cx="862.1" cy="1153.7" r="4.3"/>
<circle cx="872.7" cy="1172.0" r="4.3"/>
<circle cx="876.1" cy="1172.0" r="4.3"/>
<circle cx="873.6" cy="1185.5" r="4.3"/>
<circle cx="878.5" cy="1181.7" r="4.3"/>
<circle cx="881.3" cy="1184.5" r="4.3"/>
<circle cx="891.0" cy="1194.2" r="4.3"/>
<circle cx="927.6" cy="1162.8" r="4.3"/>
<circle cx="986.3" cy="1160.2" r="4.3"/>
<circle cx="1045.6" cy="1178.3" r="4.3"/>
<circle cx="1095.0" cy="1170.9" r="4.3"/>
<circle cx="1116.3" cy="1170.0" r="4.3"/>
<circle cx="1123.7" cy="1176.5" r="4.3"/>
<circle cx="1128.9" cy="1167.8" r="4.3"/>
<circle cx="1135.2" cy="1163.5" r="4.3"/>
<circle cx="1142.2" cy="1166.3" r="4.3"/>
<circle cx="1150.6" cy="1173.7" r="4.3"/>
</g>
<polyline points="205.6,1173.6 305.8,1179.2 420.8,1197.6 534.9,1167.2 589.8,1137.9 649.8,1175.6 654.9,1081.8 659.4,1100.6 662.7,1036.9 667.2,1036.9 671.1,1092.2 675.0,1131.2 707.0,1135.0 739.7,1196.7 749.0,1180.7 770.0,1148.5 779.6,1163.0 789.8,1193.6 799.5,1197.6 808.1,1169.7 835.1,1180.1 878.5,1193.2 903.9,1181.7 907.9,1170.1 918.9,1166.2 941.9,1183.3 948.1,1187.6 953.0,1197.8 958.0,1195.0 962.6,1198.7 976.5,1208.0 1005.2,1171.5 1025.6,1205.2 1051.1,1227.4 1081.7,1180.7 1105.2,1183.0 1135.7,1168.5" fill="none" stroke="#006633" stroke-width="3.6" stroke-linejoin="round"/>
<g fill="#006633" stroke="#111" stroke-width="1.8">
<circle cx="205.6" cy="1173.6" r="4.6"/>
<circle cx="305.8" cy="1179.2" r="4.6"/>
<circle cx="420.8" cy="1197.6" r="4.6"/>
<circle cx="534.9" cy="1167.2" r="4.6"/>
<circle cx="589.8" cy="1137.9" r="4.6"/>
<circle cx="649.8" cy="1175.6" r="4.6"/>
<circle cx="654.9" cy="1081.8" r="4.6"/>
<circle cx="659.4" cy="1100.6" r="4.6"/>
<circle cx="662.7" cy="1036.9" r="4.6"/>
<circle cx="667.2" cy="1036.9" r="4.6"/>
<circle cx="671.1" cy="1092.2" r="4.6"/>
<circle cx="675.0" cy="1131.2" r="4.6"/>
<circle cx="707.0" cy="1135.0" r="4.6"/>
<circle cx="739.7" cy="1196.7" r="4.6"/>
<circle cx="749.0" cy="1180.7" r="4.6"/>
<circle cx="770.0" cy="1148.5" r="4.6"/>
<circle cx="779.6" cy="1163.0" r="4.6"/>
<circle cx="789.8" cy="1193.6" r="4.6"/>
<circle cx="799.5" cy="1197.6" r="4.6"/>
<circle cx="808.1" cy="1169.7" r="4.6"/>
<circle cx="835.1" cy="1180.1" r="4.6"/>
<circle cx="878.5" cy="1193.2" r="4.6"/>
<circle cx="903.9" cy="1181.7" r="4.6"/>
<circle cx="907.9" cy="1170.1" r="4.6"/>
<circle cx="918.9" cy="1166.2" r="4.6"/>
<circle cx="941.9" cy="1183.3" r="4.6"/>
<circle cx="948.1" cy="1187.6" r="4.6"/>
<circle cx="953.0" cy="1197.8" r="4.6"/>
<circle cx="958.0" cy="1195.0" r="4.6"/>
<circle cx="962.6" cy="1198.7" r="4.6"/>
<circle cx="976.5" cy="1208.0" r="4.6"/>
<circle cx="1005.2" cy="1171.5" r="4.6"/>
<circle cx="1025.6" cy="1205.2" r="4.6"/>
<circle cx="1051.1" cy="1227.4" r="4.6"/>
<circle cx="1081.7" cy="1180.7" r="4.6"/>
<circle cx="1105.2" cy="1183.0" r="4.6"/>
<circle cx="1135.7" cy="1168.5" r="4.6"/>
</g>
<polyline points="191.4,1405.6 196.0,1400.8 203.7,1400.8 210.6,1399.9 217.8,1401.2 227.0,1397.0 234.1,1421.1 238.6,1395.6 240.9,1418.2 245.7,1421.6 258.2,1420.5 274.6,1425.9 291.0,1425.3 303.5,1427.4 308.3,1425.5 316.0,1443.2 383.5,1444.2 498.4,1442.4 564.9,1443.4 571.0,1428.5 576.8,1428.9 579.9,1433.1 587.6,1436.6 598.0,1436.2 609.6,1429.3 620.8,1427.4 628.5,1424.1 634.2,1428.9 636.3,1310.5 638.4,1302.1 637.4,1282.3 639.3,1225.8 640.4,1213.6 641.5,1205.2 641.2,1222.8 643.5,1218.2 645.4,1238.8 648.0,1242.6 646.5,1219.0 648.8,1225.1 651.1,1219.7 652.6,1226.6 653.7,1247.9 655.2,1198.4 656.7,1193.8 658.7,1211.3 659.8,1231.5 660.7,1366.9 662.5,1392.8 664.0,1406.5 665.6,1392.8 666.6,1371.2 668.3,1330.0 670.9,1403.9 675.5,1408.1 681.5,1411.7 687.2,1443.9 708.6,1445.5 750.9,1446.2 814.5,1446.6 862.1,1446.6 872.7,1446.2 874.6,1434.7 877.5,1433.1 879.0,1424.1 881.0,1444.7 891.0,1443.9 928.2,1445.9 986.3,1446.3 1045.6,1446.3 1095.0,1445.9 1116.3,1446.3 1123.7,1443.5 1128.9,1441.7 1135.2,1439.8 1142.2,1437.0 1150.6,1431.9" fill="none" stroke="#ff6600" stroke-width="2.8" stroke-linejoin="round"/>
<g fill="#ff6600" stroke="#990000" stroke-width="1.5">
<circle cx="191.4" cy="1405.6" r="4.3"/>
<circle cx="196.0" cy="1400.8" r="4.3"/>
<circle cx="203.7" cy="1400.8" r="4.3"/>
<circle cx="210.6" cy="1399.9" r="4.3"/>
<circle cx="217.8" cy="1401.2" r="4.3"/>
<circle cx="227.0" cy="1397.0" r="4.3"/>
<circle cx="234.1" cy="1421.1" r="4.3"/>
<circle cx="238.6" cy="1395.6" r="4.3"/>
<circle cx="240.9" cy="1418.2" r="4.3"/>
<circle cx="245.7" cy="1421.6" r="4.3"/>
<circle cx="258.2" cy="1420.5" r="4.3"/>
<circle cx="274.6" cy="1425.9" r="4.3"/>
<circle cx="291.0" cy="1425.3" r="4.3"/>
<circle cx="303.5" cy="1427.4" r="4.3"/>
<circle cx="308.3" cy="1425.5" r="4.3"/>
<circle cx="316.0" cy="1443.2" r="4.3"/>
<circle cx="383.5" cy="1444.2" r="4.3"/>
<circle cx="498.4" cy="1442.4" r="4.3"/>
<circle cx="564.9" cy="1443.4" r="4.3"/>
<circle cx="571.0" cy="1428.5" r="4.3"/>
<circle cx="576.8" cy="1428.9" r="4.3"/>
<circle cx="579.9" cy="1433.1" r="4.3"/>
<circle cx="587.6" cy="1436.6" r="4.3"/>
<circle cx="598.0" cy="1436.2" r="4.3"/>
<circle cx="609.6" cy="1429.3" r="4.3"/>
<circle cx="620.8" cy="1427.4" r="4.3"/>
<circle cx="628.5" cy="1424.1" r="4.3"/>
<circle cx="634.2" cy="1428.9" r="4.3"/>
<circle cx="636.3" cy="1310.5" r="4.3"/>
<circle cx="638.4" cy="1302.1" r="4.3"/>
<circle cx="637.4" cy="1282.3" r="4.3"/>
<circle cx="639.3" cy="1225.8" r="4.3"/>
<circle cx="640.4" cy="1213.6" r="4.3"/>
<circle cx="641.5" cy="1205.2" r="4.3"/>
<circle cx="641.2" cy="1222.8" r="4.3"/>
<circle cx="643.5" cy="1218.2" r="4.3"/>
<circle cx="645.4" cy="1238.8" r="4.3"/>
<circle cx="648.0" cy="1242.6" r="4.3"/>
<circle cx="646.5" cy="1219.0" r="4.3"/>
<circle cx="648.8" cy="1225.1" r="4.3"/>
<circle cx="651.1" cy="1219.7" r="4.3"/>
<circle cx="652.6" cy="1226.6" r="4.3"/>
<circle cx="653.7" cy="1247.9" r="4.3"/>
<circle cx="655.2" cy="1198.4" r="4.3"/>
<circle cx="656.7" cy="1193.8" r="4.3"/>
<circle cx="658.7" cy="1211.3" r="4.3"/>
<circle cx="659.8" cy="1231.5" r="4.3"/>
<circle cx="660.7" cy="1366.9" r="4.3"/>
<circle cx="662.5" cy="1392.8" r="4.3"/>
<circle cx="664.0" cy="1406.5" r="4.3"/>
<circle cx="665.6" cy="1392.8" r="4.3"/>
<circle cx="666.6" cy="1371.2" r="4.3"/>
<circle cx="668.3" cy="1330.0" r="4.3"/>
<circle cx="670.9" cy="1403.9" r="4.3"/>
<circle cx="675.5" cy="1408.1" r="4.3"/>
<circle cx="681.5" cy="1411.7" r="4.3"/>
<circle cx="687.2" cy="1443.9" r="4.3"/>
<circle cx="708.6" cy="1445.5" r="4.3"/>
<circle cx="750.9" cy="1446.2" r="4.3"/>
<circle cx="814.5" cy="1446.6" r="4.3"/>
<circle cx="862.1" cy="1446.6" r="4.3"/>
<circle cx="872.7" cy="1446.2" r="4.3"/>
<circle cx="874.6" cy="1434.7" r="4.3"/>
<circle cx="877.5" cy="1433.1" r="4.3"/>
<circle cx="879.0" cy="1424.1" r="4.3"/>
<circle cx="881.0" cy="1444.7" r="4.3"/>
<circle cx="891.0" cy="1443.9" r="4.3"/>
<circle cx="928.2" cy="1445.9" r="4.3"/>
<circle cx="986.3" cy="1446.3" r="4.3"/>
<circle cx="1045.6" cy="1446.3" r="4.3"/>
<circle cx="1095.0" cy="1445.9" r="4.3"/>
<circle cx="1116.3" cy="1446.3" r="4.3"/>
<circle cx="1123.7" cy="1443.5" r="4.3"/>
<circle cx="1128.9" cy="1441.7" r="4.3"/>
<circle cx="1135.2" cy="1439.8" r="4.3"/>
<circle cx="1142.2" cy="1437.0" r="4.3"/>
<circle cx="1150.6" cy="1431.9" r="4.3"/>
</g>
<polyline points="203.3,1446.9 299.3,1446.9 353.6,1446.9 395.6,1446.9 437.1,1446.9 494.9,1446.9 510.9,1446.9 533.1,1446.9 559.1,1446.9 594.2,1446.9 622.9,1446.9 632.8,1446.9 655.2,1446.9 680.9,1446.9 764.4,1446.9 806.2,1446.9 838.0,1446.9 892.9,1446.9 966.3,1446.9 1027.0,1446.9 1049.6,1446.9" fill="none" stroke="#996633" stroke-width="2.8" stroke-linejoin="round"/>
<g fill="#996633" stroke="#5a3210" stroke-width="1.5">
<circle cx="203.3" cy="1446.9" r="4.3"/>
<circle cx="299.3" cy="1446.9" r="4.3"/>
<circle cx="353.6" cy="1446.9" r="4.3"/>
<circle cx="395.6" cy="1446.9" r="4.3"/>
<circle cx="437.1" cy="1446.9" r="4.3"/>
<circle cx="494.9" cy="1446.9" r="4.3"/>
<circle cx="510.9" cy="1446.9" r="4.3"/>
<circle cx="533.1" cy="1446.9" r="4.3"/>
<circle cx="559.1" cy="1446.9" r="4.3"/>
<circle cx="594.2" cy="1446.9" r="4.3"/>
<circle cx="622.9" cy="1446.9" r="4.3"/>
<circle cx="632.8" cy="1446.9" r="4.3"/>
<circle cx="655.2" cy="1446.9" r="4.3"/>
<circle cx="680.9" cy="1446.9" r="4.3"/>
<circle cx="764.4" cy="1446.9" r="4.3"/>
<circle cx="806.2" cy="1446.9" r="4.3"/>
<circle cx="838.0" cy="1446.9" r="4.3"/>
<circle cx="892.9" cy="1446.9" r="4.3"/>
<circle cx="966.3" cy="1446.9" r="4.3"/>
<circle cx="1027.0" cy="1446.9" r="4.3"/>
<circle cx="1049.6" cy="1446.9" r="4.3"/>
</g>
<g fill="#996633">
<rect x="201.1" y="1588.2" width="8.8" height="112.8"/>
<rect x="301.6" y="1644.6" width="8.5" height="56.4"/>
<rect x="416.6" y="1658.7" width="8.5" height="42.3"/>
<rect x="474.2" y="1658.7" width="8.7" height="42.3"/>
<rect x="646" y="1461.3" width="8.8" height="239.7"/>
<rect x="654.8" y="1475.4" width="9.0" height="225.6"/>
<rect x="663.8" y="1503.6" width="7.9" height="197.4"/>
<rect x="671.7" y="1686.9" width="8.3" height="14.1"/>
<rect x="702.6" y="1672.8" width="8.8" height="28.2"/>
<rect x="735.3" y="1644.6" width="8.6" height="56.4"/>
<rect x="743.9" y="1686.9" width="9.5" height="14.1"/>
<rect x="755.2" y="1672.8" width="8.5" height="28.2"/>
<rect x="765.6" y="1644.6" width="8.8" height="56.4"/>
<rect x="775.6" y="1658.7" width="8.4" height="42.3"/>
<rect x="785.5" y="1672.8" width="8.6" height="28.2"/>
<rect x="804" y="1672.8" width="8.6" height="28.2"/>
<rect x="830.7" y="1686.9" width="8.6" height="14.1"/>
<rect x="899.6" y="1630.5" width="8.3" height="70.5"/>
<rect x="907.9" y="1658.7" width="4.2" height="42.3"/>
<rect x="914.8" y="1672.8" width="8.6" height="28.2"/>
<rect x="929.6" y="1686.9" width="8.2" height="14.1"/>
<rect x="937.8" y="1672.8" width="8.6" height="28.2"/>
<rect x="946.4" y="1686.9" width="6.2" height="14.1"/>
<rect x="1001" y="1672.8" width="9.0" height="28.2"/>
<rect x="1020.9" y="1686.9" width="9.0" height="14.1"/>
<rect x="1047" y="1686.9" width="8.9" height="14.1"/>
<rect x="1077.4" y="1686.9" width="9.0" height="14.1"/>
<rect x="1101.2" y="1672.8" width="8.8" height="28.2"/>
<rect x="1131.2" y="1672.8" width="9.0" height="28.2"/>
<rect x="1140.2" y="1686.9" width="4.9" height="14.1"/>
</g>
<line x1="665.8" y1="71.3" x2="665.8" y2="1702" stroke="#000" stroke-opacity="0.6" stroke-width="5" stroke-linecap="round" stroke-dasharray="11 22.75"/>
</svg>
</body></html>
